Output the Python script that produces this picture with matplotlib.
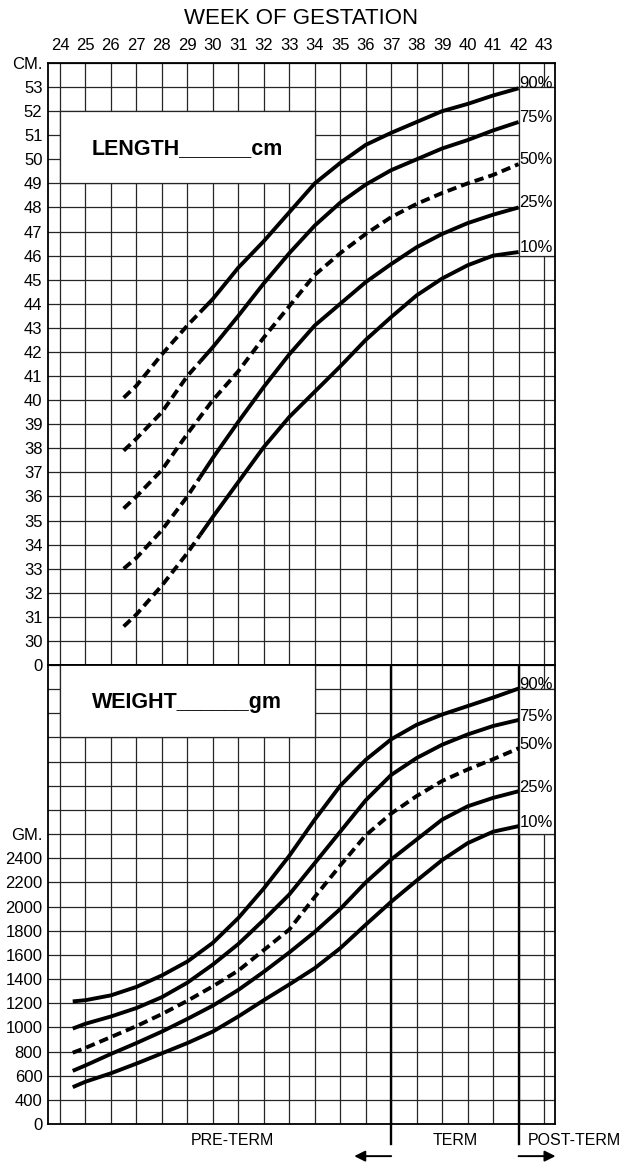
import numpy as np
import matplotlib.pyplot as plt
import matplotlib.transforms as mtransforms
from matplotlib.patches import Rectangle

plt.rcParams['font.family'] = ['Liberation Sans', 'DejaVu Sans']

# ---- data ----
WEEKS = list(range(24, 44))
PERCENTILES = ['90%', '75%', '50%', '25%', '10%']

# length (cm), weeks 26.5 .. 42
len_weeks = [26.5, 27, 28, 29, 29.5, 30, 31, 32, 33, 34, 35, 36, 37, 38, 39, 40, 41, 42]
len_90 = [40.1, 40.6, 41.9, 43.1, 43.65, 44.2, 45.5, 46.6, 47.8, 49.0, 49.85, 50.6, 51.1, 51.55, 52.0, 52.3, 52.65, 52.95]
len_75 = [37.9, 38.4, 39.5, 41.0, 41.6, 42.2, 43.5, 44.85, 46.1, 47.25, 48.2, 48.95, 49.55, 50.0, 50.45, 50.8, 51.2, 51.55]
len_50 = [35.5, 36.0, 37.1, 38.6, 39.3, 40.0, 41.2, 42.6, 43.9, 45.2, 46.1, 46.9, 47.6, 48.15, 48.6, 49.0, 49.35, 49.8]
len_25 = [33.0, 33.45, 34.6, 36.0, 36.8, 37.6, 39.1, 40.55, 41.9, 43.1, 44.0, 44.9, 45.65, 46.35, 46.9, 47.35, 47.7, 48.0]
len_10 = [30.6, 31.1, 32.3, 33.65, 34.4, 35.15, 36.6, 38.05, 39.3, 40.35, 41.4, 42.5, 43.45, 44.35, 45.05, 45.6, 46.0, 46.15]
len_dashed_until = [29.5, 29.5, 42, 29.5, 29.5]

# weight (gm), weeks 24.5 .. 42
wt_weeks = [24.5, 25, 26, 27, 28, 29, 30, 31, 32, 33, 34, 35, 36, 37, 38, 39, 40, 41, 42]
wt_90 = [1215, 1225, 1265, 1335, 1430, 1545, 1700, 1905, 2150, 2420, 2720, 3000, 3215, 3385, 3505, 3590, 3660, 3730, 3805]
wt_75 = [990, 1030, 1090, 1160, 1250, 1370, 1520, 1690, 1890, 2100, 2360, 2620, 2880, 3090, 3230, 3340, 3425, 3495, 3545]
wt_50 = [790, 830, 920, 1010, 1110, 1220, 1340, 1470, 1640, 1810, 2080, 2340, 2590, 2770, 2915, 3040, 3135, 3220, 3310]
wt_25 = [640, 685, 780, 870, 965, 1070, 1180, 1310, 1460, 1620, 1790, 1980, 2200, 2390, 2555, 2720, 2830, 2900, 2955]
wt_10 = [505, 550, 620, 700, 785, 870, 965, 1090, 1225, 1355, 1490, 1655, 1850, 2040, 2215, 2385, 2525, 2620, 2666]
wt_dashed = [False, False, True, False, False]

len_ticks = list(range(30, 54))
wt_ticks = list(range(400, 2600, 200))

GRID = '#262626'
LW_CURVE = 2.8
DASH = (2.4, 1.3)

fig = plt.figure(figsize=(6.22, 11.67), dpi=100)
x0, x1 = 48 / 622, 555 / 622
ax_len = fig.add_axes([x0, 1 - 665 / 1167, x1 - x0, 602 / 1167])
ax_wt = fig.add_axes([x0, 1 - 1124 / 1167, x1 - x0, 459 / 1167])

for ax in (ax_len, ax_wt):
    ax.set_xlim(23.53, 43.43)
    ax.set_xticks(WEEKS)
    ax.grid(True, color=GRID, lw=0.9)
    ax.set_axisbelow(True)
    ax.tick_params(length=0, labelsize=12, pad=4)
    for s in ax.spines.values():
        s.set_linewidth(1.3)
        s.set_color('black')

# length axis
ax_len.set_ylim(29, 54)
ax_len.set_yticks([29] + len_ticks + [54])
ax_len.set_yticklabels(['0'] + [str(t) for t in len_ticks] + ['CM.'])
ax_len.xaxis.tick_top()
ax_len.tick_params(axis='x', pad=7)
ax_len.set_xticklabels([str(w) for w in WEEKS])

# weight axis
ax_wt.set_ylim(200, 4000)
yt = list(range(200, 4001, 200))
ax_wt.set_yticks(yt)
ax_wt.set_yticklabels(['0'] + [str(t) for t in wt_ticks] + ['GM.'] + [''] * (len(yt) - 2 - len(wt_ticks)))
ax_wt.set_xticklabels([])
for w in (37, 42):
    ax_wt.axvline(w, color='black', lw=1.7, zorder=1.2)

# white label boxes
def white_box(ax, x, y, w, h):
    ax.add_patch(Rectangle((x, y), w, h, facecolor='white', edgecolor=GRID, lw=0.9, zorder=1.5))

white_box(ax_len, 24, 49, 10, 3)
white_box(ax_len, 42, 46, 1.43, 7)
white_box(ax_wt, 24, 3400, 10, 700)
white_box(ax_wt, 42, 2600, 1.43, 1200)

ax_len.text(29, 50.45, 'LENGTH______cm', ha='center', va='center', fontsize=15.5, fontweight='bold', zorder=4)
ax_wt.text(29, 3690, 'WEIGHT______gm', ha='center', va='center', fontsize=15.5, fontweight='bold', zorder=4)

# length curves
len_series = [len_90, len_75, len_50, len_25, len_10]
lw_arr = np.array(len_weeks)
for name, vals, dend in zip(PERCENTILES, len_series, len_dashed_until):
    v = np.array(vals)
    m1 = lw_arr <= dend
    ax_len.plot(lw_arr[m1], v[m1], color='black', lw=LW_CURVE, dashes=DASH,
                solid_capstyle='butt', dash_capstyle='butt', zorder=3)
    m2 = lw_arr >= dend
    if m2.sum() > 1:
        ax_len.plot(lw_arr[m2], v[m2], color='black', lw=LW_CURVE,
                    solid_joinstyle='round', solid_capstyle='butt', zorder=3)
    ax_len.text(42.04, vals[-1] + 0.2, name, ha='left', va='center', fontsize=12, zorder=4)

# weight curves
wt_series = [wt_90, wt_75, wt_50, wt_25, wt_10]
for name, vals, dashed in zip(PERCENTILES, wt_series, wt_dashed):
    kw = dict(dashes=DASH, dash_capstyle='butt') if dashed else dict(solid_joinstyle='round', solid_capstyle='butt')
    ax_wt.plot(wt_weeks, vals, color='black', lw=LW_CURVE, zorder=3, **kw)
    ax_wt.text(42.04, vals[-1] + 30, name, ha='left', va='center', fontsize=12, zorder=4)

# title
fig.text(301 / 622, 1 - 18 / 1167, 'WEEK OF GESTATION', ha='center', va='center', fontsize=16)

# term markers below chart
trans = mtransforms.blended_transform_factory(ax_wt.transData, ax_wt.transAxes)
for w in (37, 42):
    ax_wt.plot([w, w], [0, -0.043], color='black', lw=1.7, transform=trans, clip_on=False)
ax_wt.text(30.76, -0.035, 'PRE-TERM', transform=trans, ha='center', va='center', fontsize=11.5)
ax_wt.text(39.5, -0.035, 'TERM', transform=trans, ha='center', va='center', fontsize=11.5)
ax_wt.text(42.38, -0.035, 'POST-TERM', transform=trans, ha='left', va='center', fontsize=11.5, clip_on=False)
arrow = dict(arrowstyle='-|>', color='black', lw=1.4, mutation_scale=16, shrinkA=0, shrinkB=0)
ax_wt.annotate('', xy=(35.55, -0.07), xytext=(37, -0.07), xycoords=trans, textcoords=trans, arrowprops=arrow)
ax_wt.annotate('', xy=(43.45, -0.07), xytext=(42, -0.07), xycoords=trans, textcoords=trans, arrowprops=arrow)

fig.savefig('out.png', dpi=100)
